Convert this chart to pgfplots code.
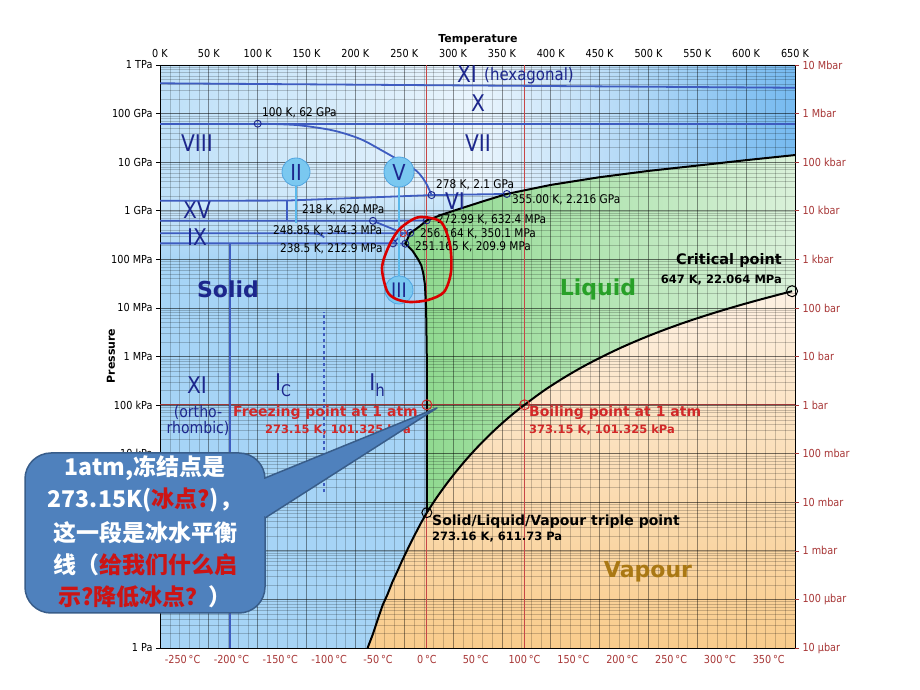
\documentclass[border=0pt]{standalone}
\usepackage{fontspec}
\setmainfont{DejaVu Sans}
\newfontfamily\cond[FakeStretch=0.88]{DejaVu Sans}
\newfontfamily\cjk{Noto Sans CJK SC}
\usepackage{pgfplots}
\pgfplotsset{compat=1.18}

\definecolor{navy}{RGB}{28,38,140}
\definecolor{phase}{RGB}{62,92,192}
\definecolor{solidblue}{RGB}{166,212,246}
\definecolor{hpL}{RGB}{190,224,248}
\definecolor{hpM}{RGB}{234,245,253}
\definecolor{hpR}{RGB}{118,186,240}
\definecolor{midtop}{RGB}{208,233,250}
\definecolor{liqL}{RGB}{140,216,140}
\definecolor{liqR}{RGB}{218,241,218}
\definecolor{vapdeep}{RGB}{249,204,140}
\definecolor{vappale}{RGB}{253,240,226}
\definecolor{refred}{RGB}{200,70,70}
\definecolor{markred}{RGB}{210,40,40}
\definecolor{tickred}{RGB}{168,55,55}
\definecolor{liqtext}{RGB}{40,160,40}
\definecolor{vaptext}{RGB}{170,120,20}
\definecolor{callout}{RGB}{79,129,189}
\definecolor{calloutedge}{RGB}{56,93,138}
\definecolor{calred}{RGB}{205,20,20}
\definecolor{balloon}{RGB}{122,200,240}
\definecolor{balloonedge}{RGB}{80,165,225}
\definecolor{stem}{RGB}{90,185,235}

\newcommand\fs[1]{\fontsize{#1}{#1}\selectfont}
\newcommand\tickfont{\cond\fs{11}}

\pgfplotsset{
  phaseline/.style={color=phase, line width=1.8pt, no markers},
  boundary/.style={black, line width=2pt, no markers},
}

\begin{document}
\begin{tikzpicture}
\path[use as bounding box] (0,0) rectangle (920pt,690pt);
\fill[white] (0,0) rectangle (920pt,690pt);

% region fills
\begin{axis}[at={(160pt,42pt)}, anchor=south west,
    width=635pt, height=583pt, scale only axis,
    xmin=0, xmax=650, ymin=1, ymax=1e12, ymode=log, hide axis]
\addplot[draw=none, fill=solidblue]
  coordinates {(0,1) (650,1) (650,1e12) (0,1e12)} -- cycle;
\addplot[draw=none, left color=hpL, right color=hpR, middle color=hpM]
  coordinates {(0,1e12) (650,1e12) (650,1.4e10) (600,1.1e10) (550,8.5e9) (500,6.6e9)
  (450,4.9e9) (400,3.4e9) (355,2.216e9) (278,2.1e9) (130,1.62e9) (0,1.6e9)} -- cycle;
\addplot[draw=none, top color=midtop, bottom color=solidblue]
  coordinates {(0,1.6e9) (130,1.62e9) (278,2.1e9) (355,2.216e9) (330,1.55e9) (310,1.15e9)
  (290,8.5e8) (272.99,6.324e8) (268,5.2e8) (262,4.2e8) (256.164,3.501e8) (251.165,2.099e8)
  (258.5,1.5e8) (264.2,1e8) (266,8e7) (0,8e7)} -- cycle;
\addplot[draw=none, left color=liqL, right color=liqR]
  coordinates {(273.16,611.73) (273.15,101325) (273.09,1e6) (272.4,1e7) (271.2,3e7) (269.6,5e7)
  (267.5,7.5e7) (264.2,1e8) (258.5,1.5e8) (251.165,2.099e8) (256.164,3.501e8) (262,4.2e8)
  (268,5.2e8) (272.99,6.324e8) (290,8.5e8) (310,1.15e9) (330,1.55e9) (355,2.216e9) (400,3.4e9)
  (450,4.9e9) (500,6.6e9) (550,8.5e9) (600,1.1e10) (650,1.4e10) (650,2.2064e7) (647,2.2064e7)
  (633,1.867e7) (613,1.46e7) (593,1.128e7) (573,8.581e6) (553,6.412e6) (533,4.694e6)
  (513,3.347e6) (493,2.318e6) (473,1.555e6) (453,1.0e6) (433,6.182e5) (413,3.615e5)
  (393,1.987e5) (373.15,101325) (363,70182) (353,47414) (343,31201) (333,19946) (323,12352)
  (313,7385) (303,4247) (293,2339) (283,1228)} -- cycle;
\addplot[draw=none, top color=vappale, bottom color=vapdeep]
  coordinates {(273.16,611.73) (283,1228) (293,2339) (303,4247) (313,7385) (323,12352)
  (333,19946) (343,31201) (353,47414) (363,70182) (373.15,101325) (393,1.987e5) (413,3.615e5)
  (433,6.182e5) (453,1.0e6) (473,1.555e6) (493,2.318e6) (513,3.347e6) (533,4.694e6)
  (553,6.412e6) (573,8.581e6) (593,1.128e7) (613,1.46e7) (633,1.867e7) (647,2.2064e7)
  (650,2.2064e7) (650,1) (212.5,1) (218,1.95) (223,3.94) (228,7.7) (233,12.84) (238,23.1)
  (243,38.0) (248,63.9) (253,103.2) (258,165.2) (263,259.9) (268,401.8)} -- cycle;
\end{axis}

% grid, lines and points
\begin{axis}[at={(160pt,42pt)}, anchor=south west,
  width=635pt, height=583pt, scale only axis,
  xmin=0, xmax=650, ymin=1, ymax=1e12, ymode=log,
  xtick={0,50,...,650}, minor x tick num=4,
  xticklabels={0 K,50 K,100 K,150 K,200 K,250 K,300 K,350 K,400 K,450 K,500 K,550 K,600 K,650 K},
  xticklabel pos=upper, xtick pos=upper,
  ytickten={0,...,12},
  yticklabels={1 Pa,10 Pa,100 Pa,1 kPa,10 kPa,100 kPa,1 MPa,10 MPa,100 MPa,1 GPa,10 GPa,100 GPa,1 TPa},
  ytick pos=left,
  grid=both,
  major grid style={black, opacity=0.42, line width=0.7pt},
  minor grid style={black, opacity=0.2, line width=0.4pt},
  tick align=outside, major tick length=4pt, minor tick length=0pt,
  xtick style={draw=none}, ytick style={black, line width=0.5pt},
  ticklabel style={font=\tickfont},
  axis line style={black, line width=0.8pt},
]
% reference lines at 1 atm, 0 C and 100 C
\addplot[refred, line width=0.9pt] coordinates {(273.15,1) (273.15,1e12)};
\addplot[refred, line width=0.9pt] coordinates {(373.15,1) (373.15,1e12)};
\addplot[refred!80!black, line width=0.9pt] coordinates {(0,101325) (650,101325)};

% solid-solid boundaries
\addplot[phaseline] coordinates {(0,4.2e11) (650,3.4e11)};
\addplot[phaseline] coordinates {(0,6.2e10) (650,6.2e10)};
\addplot[phaseline, smooth] coordinates {(100,6.2e10) (140,5.8e10) (177,4.5e10) (205,3.0e10)
  (228,1.7e10) (248,1.0e10) (263,6.5e9) (272,3.8e9) (278,2.1e9)};
\addplot[phaseline] coordinates {(0,1.6e9) (130,1.62e9) (278,2.1e9) (355,2.216e9)};
\addplot[phaseline] coordinates {(130,1.62e9) (130,6.2e8)};
\addplot[phaseline] coordinates {(0,6.2e8) (218,6.2e8) (272.99,6.324e8)};
\addplot[phaseline] coordinates {(218,6.2e8) (248.85,3.443e8)};
\addplot[phaseline] coordinates {(0,3.443e8) (248.85,3.443e8) (256.164,3.501e8)};
\addplot[phaseline, smooth] coordinates {(150,3.443e8) (163,3.3e8) (168,2.8e8)};
\addplot[phaseline] coordinates {(0,2.129e8) (238.5,2.129e8) (251.165,2.099e8)};
\addplot[phaseline] coordinates {(238.5,2.129e8) (248.85,3.443e8)};
\addplot[phaseline] coordinates {(72,1) (72,2.129e8)};
\addplot[phaseline, line width=1.3pt, dashed] coordinates {(168,1.6e3) (168,8.3e6)};

% solid/liquid/vapour boundaries
\addplot[boundary] coordinates {(212.5,1) (218,1.95) (223,3.94) (228,7.7) (233,12.84) (238,23.1)
  (243,38.0) (248,63.9) (253,103.2) (258,165.2) (263,259.9) (268,401.8) (273.16,611.73)};
\addplot[boundary, smooth] coordinates {(273.16,611.73) (283,1228) (293,2339) (303,4247)
  (313,7385) (323,12352) (333,19946) (343,31201) (353,47414) (363,70182) (373.15,101325)
  (393,1.987e5) (413,3.615e5) (433,6.182e5) (453,1.0e6) (473,1.555e6) (493,2.318e6)
  (513,3.347e6) (533,4.694e6) (553,6.412e6) (573,8.581e6) (593,1.128e7) (613,1.46e7)
  (633,1.867e7) (647,2.2064e7)};
\addplot[boundary] coordinates {(273.16,611.73) (273.15,101325) (273.09,1e6) (272.4,1e7)
  (271.2,3e7) (269.6,5e7) (267.5,7.5e7) (264.2,1e8) (258.5,1.5e8) (251.165,2.099e8)
  (256.164,3.501e8) (262,4.2e8) (268,5.2e8) (272.99,6.324e8) (290,8.5e8) (310,1.15e9)
  (330,1.55e9) (355,2.216e9) (400,3.4e9) (450,4.9e9) (500,6.6e9) (550,8.5e9) (600,1.1e10)
  (650,1.4e10)};

% points
\addplot[only marks, mark=o, mark size=3.5pt, navy, line width=0.9pt] coordinates {
  (100,6.2e10) (278,2.1e9) (355,2.216e9) (218,6.2e8) (256.164,3.501e8) (238.5,2.129e8)
  (251.165,2.099e8) (272.99,6.324e8)};
\addplot[only marks, mark=o, mark size=3.5pt, markred, line width=0.9pt] coordinates {(248.85,3.443e8)};
\addplot[only marks, mark=o, mark size=5.5pt, black, line width=1pt] coordinates {(647,2.2064e7)};
\addplot[only marks, mark=o, mark size=5pt, black, line width=1pt] coordinates {(273.16,611.73)};
\addplot[only marks, mark=o, mark size=5pt, markred, line width=1pt] coordinates {(273.15,101325) (373.15,101325)};
\end{axis}

% Celsius and bar scales
\begin{axis}[at={(160pt,42pt)}, anchor=south west,
  width=635pt, height=583pt, scale only axis,
  xmin=0, xmax=650, ymin=1, ymax=1e12, ymode=log,
  axis line style={draw=none},
  xtick={23.15,73.15,123.15,173.15,223.15,273.15,323.15,373.15,423.15,473.15,523.15,573.15,623.15},
  xticklabels={-250\,°C,-200\,°C,-150\,°C,-100\,°C,-50\,°C,0\,°C,50\,°C,100\,°C,150\,°C,200\,°C,250\,°C,300\,°C,350\,°C},
  xticklabel pos=lower, xtick pos=lower, xtick style={draw=none},
  ytickten={0,...,12},
  yticklabels={10 µbar,100 µbar,1 mbar,10 mbar,100 mbar,1 bar,10 bar,100 bar,1 kbar,10 kbar,100 kbar,1 Mbar,10 Mbar},
  yticklabel pos=right, ytick pos=right,
  tick align=outside, major tick length=4pt, minor tick length=0pt,
  ytick style={tickred, line width=0.5pt},
  ticklabel style={font=\tickfont, text=tickred},
]
\addplot[draw=none] coordinates {(0,1) (650,1e12)};
\end{axis}

\begin{scope}[x=1pt, y=-1pt, shift={(0pt,690pt)}]
\node[font=\bfseries\fs{11}] at (478,40) {Temperature};
\node[font=\bfseries\fs{11}, rotate=90] at (111,356) {Pressure};

% phase names
\begin{scope}[every node/.style={text=navy, inner sep=0pt, font=\cond\fs{23}}]
\node at (467,74) {XI};
\node[anchor=west, font=\cond\fs{17}] at (484,76) {(hexagonal)};
\node at (478,103) {X};
\node at (197,143) {VIII};
\node at (478,143) {VII};
\node at (197,210) {XV};
\node at (455,201) {VI};
\node at (197,237) {IX};
\node at (197,385) {XI};
\node[font=\cond\fs{16}] at (198,412) {(ortho-};
\node[font=\cond\fs{16}] at (198,428) {rhombic)};
\node at (283,385) {I\raisebox{-6pt}{\fs{16}C}};
\node at (377,385) {I\raisebox{-6pt}{\fs{17}h}};
\node[font=\bfseries\fs{22}] at (228,289) {Solid};
\end{scope}
\node[text=liqtext, font=\bfseries\fs{22}] at (598,289) {Liquid};
\node[text=vaptext, font=\bfseries\fs{22}] at (648,572) {Vapour};

% label balloons
\draw[stem, line width=1.5pt] (296,186) -- (296,223);
\draw[stem, line width=1.5pt] (399,187) -- (399,276);
\draw[fill=balloon, draw=balloonedge, line width=0.8pt] (296,172) circle (14pt);
\draw[fill=balloon, draw=balloonedge, line width=0.8pt] (399,172) circle (15pt);
\draw[fill=balloon, draw=balloonedge, line width=0.8pt] (399,290) circle (14pt);
\node[text=navy, font=\cond\fs{22}] at (296,172) {II};
\node[text=navy, font=\cond\fs{22}] at (399,172) {V};
\node[text=navy, font=\cond\fs{20}] at (399,290) {III};

% point annotations
\begin{scope}[every node/.style={anchor=west, inner sep=0pt, font=\cond\fs{12}}]
\node at (262,113) {100 K, 62 GPa};
\node at (436,185) {278 K, 2.1 GPa};
\node at (512,200) {355.00 K, 2.216 GPa};
\node at (302,210) {218 K, 620 MPa};
\node at (437,220) {272.99 K, 632.4 MPa};
\node at (273,231) {248.85 K, 344.3 MPa};
\node at (420,234) {256.164 K, 350.1 MPa};
\node at (280,249) {238.5 K, 212.9 MPa};
\node at (415,247) {251.165 K, 209.9 MPa};
\end{scope}
\node[anchor=east, inner sep=0pt, font=\bfseries\fs{14.5}] at (782,261) {Critical point};
\node[anchor=east, inner sep=0pt, font=\bfseries\fs{11.5}] at (782,280) {647 K, 22.064 MPa};
\node[anchor=east, inner sep=0pt, text=markred, font=\bfseries\fs{14}] at (418,413) {Freezing point at 1 atm};
\node[anchor=east, inner sep=0pt, text=markred, font=\bfseries\fs{11.5}] at (411,430) {273.15 K, 101.325 kPa};
\node[anchor=west, inner sep=0pt, text=markred, font=\bfseries\fs{14}] at (529,413) {Boiling point at 1 atm};
\node[anchor=west, inner sep=0pt, text=markred, font=\bfseries\fs{11.5}] at (529,430) {373.15 K, 101.325 kPa};
\node[anchor=west, inner sep=0pt, font=\bfseries\fs{14}] at (432,522) {Solid/Liquid/Vapour triple point};
\node[anchor=west, inner sep=0pt, font=\bfseries\fs{11.5}] at (432,537) {273.16 K, 611.73 Pa};

% hand-drawn loop
\draw[red!85!black, line width=2.6pt] plot[smooth cycle] coordinates {(420,217) (441,222) (450,245)
  (451,272) (444,292) (428,300) (410,302) (396,299) (387,291) (382,268) (388,248) (397,232) (407,223)};

% callout
\draw[fill=callout, draw=calloutedge, line width=1.5pt, rounded corners=26pt] (25,453) rectangle (265,613);
\fill[callout] (265,478) -- (437,408) -- (265,518) -- cycle;
\fill[callout] (262.5,479.5) rectangle (267,516.5);
\draw[calloutedge, line width=1.5pt, line join=round] (265,478) -- (437,408) -- (265,518);
\begin{scope}[every node/.style={text=white, inner sep=0pt, font=\cjk\bfseries\fs{23}}]
\node at (145,468) {1atm,冻结点是};
\node at (145,500) {273.15K(\textcolor{calred}{冰点?})，};
\node at (145,533) {这一段是冰水平衡};
\node at (145,565) {线（\textcolor{calred}{给我们什么启}};
\node at (145,597) {\textcolor{calred}{示?降低冰点？}）};
\end{scope}
\end{scope}
\end{tikzpicture}
\end{document}
